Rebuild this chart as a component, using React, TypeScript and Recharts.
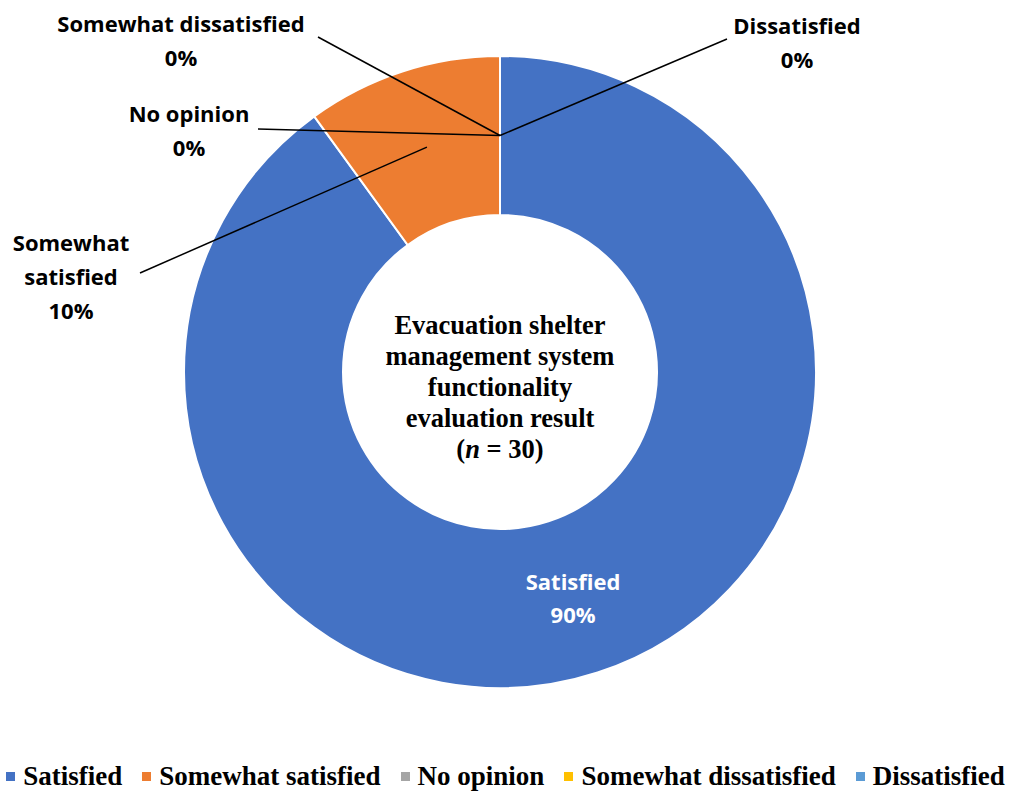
import React from 'react';
import { PieChart, Pie, Cell, Legend } from 'recharts';

// 满意度调查结果 (n = 30)
const categories = ['Satisfied', 'Somewhat satisfied', 'No opinion', 'Somewhat dissatisfied', 'Dissatisfied'];
const responses = [27, 3, 0, 0, 0];
const colors = ['#4472C4', '#ED7D31', '#A5A5A5', '#FFC000', '#5B9BD5'];
const labelLines = [['Satisfied'], ['Somewhat', 'satisfied'], ['No opinion'], ['Somewhat dissatisfied'], ['Dissatisfied']];
const centerTitle = ['Evacuation shelter', 'management system', 'functionality', 'evaluation result'];

// label text / leader-line end, relative to the pie centre
const labelLayout = [
  null,
  { tx: -429, ty: -130, lx: -360, ly: -99 },
  { tx: -311, ty: -259, lx: -242, ly: -243 },
  { tx: -319, ty: -349, lx: -182, ly: -335 },
  { tx: 297, ty: -347, lx: 227, ly: -333 },
];

const pieData = categories.map((name, i) => ({ name, value: responses[i] }));

const LABEL_FONT = '"Open Sans", sans-serif';
const SERIF = '"Liberation Serif", "Times New Roman", serif';

function renderLabel(props: any) {
  const { cx, cy, midAngle, innerRadius, outerRadius, percent, index } = props;
  const RAD = Math.PI / 180;
  const r = (innerRadius + outerRadius) / 2;
  const ax = cx + r * Math.cos(-midAngle * RAD);
  const ay = cy + r * Math.sin(-midAngle * RAD);
  const lines = [...labelLines[index], `${Math.round(percent * 100)}%`];
  const layout = labelLayout[index];

  if (!layout) {
    // 内部标签 + 中心标题
    return (
      <g key={`lbl-${index}`}>
        {lines.map((t, i) => (
          <text key={i} x={ax} y={ay - 16 + i * 33} fill="#fff" textAnchor="middle" dominantBaseline="central"
            fontFamily={LABEL_FONT} fontWeight={700} fontSize={22}>{t}</text>
        ))}
        {centerTitle.map((t, i) => (
          <text key={`c${i}`} x={cx} y={cy - 47 + i * 31} fill="#000" textAnchor="middle" dominantBaseline="central"
            fontFamily={SERIF} fontWeight={700} fontSize={26.5}>{t}</text>
        ))}
        <text x={cx} y={cy + 77} fill="#000" textAnchor="middle" dominantBaseline="central"
          fontFamily={SERIF} fontWeight={700} fontSize={26.5}>
          (<tspan fontStyle="italic">n</tspan> = 30)
        </text>
      </g>
    );
  }

  return (
    <g key={`lbl-${index}`}>
      <line x1={ax} y1={ay} x2={cx + layout.lx} y2={cy + layout.ly} stroke="#000" strokeWidth={1.5} />
      {lines.map((t, i) => (
        <text key={i} x={cx + layout.tx} y={cy + layout.ty + i * 34} fill="#000" textAnchor="middle"
          dominantBaseline="central" fontFamily={LABEL_FONT} fontWeight={700} fontSize={22}>{t}</text>
      ))}
    </g>
  );
}

function LegendContent() {
  return (
    <div style={{ display: 'flex', alignItems: 'center', justifyContent: 'center', gap: 20, fontFamily: SERIF, fontWeight: 700, fontSize: 27, whiteSpace: 'nowrap' }}>
      {categories.map((name, i) => (
        <div key={name} style={{ display: 'flex', alignItems: 'center' }}>
          <span style={{ display: 'inline-block', width: 9, height: 9, background: colors[i], marginRight: 8 }} />
          <span>{name}</span>
        </div>
      ))}
    </div>
  );
}

export default function App() {
  return (
    <div style={{ position: 'fixed', left: 0, top: 0, background: '#fff' }}>
      <PieChart width={1011} height={792} margin={{ top: 0, right: 0, bottom: 0, left: 0 }}>
        <Pie
          data={pieData}
          dataKey="value"
          nameKey="name"
          cx={500}
          cy={372}
          innerRadius={157}
          outerRadius={316}
          startAngle={90}
          endAngle={-270}
          stroke="#fff"
          strokeWidth={2}
          label={renderLabel}
          labelLine={false}
          isAnimationActive={false}
        >
          {pieData.map((d, i) => (
            <Cell key={d.name} fill={colors[i]} />
          ))}
        </Pie>
        <Legend content={<LegendContent />} wrapperStyle={{ left: 0, top: 761, width: 1011 }} />
      </PieChart>
    </div>
  );
}
